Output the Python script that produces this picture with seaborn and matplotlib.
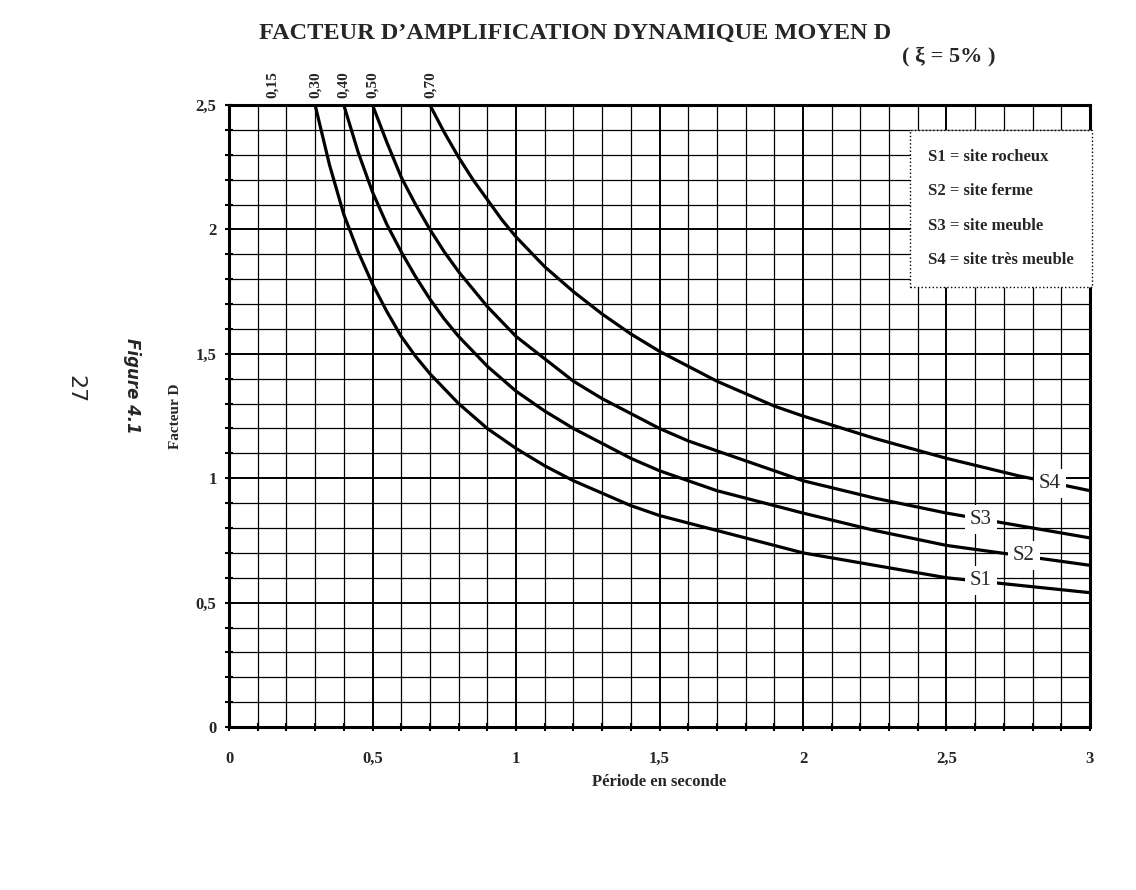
import numpy as np
import pandas as pd
import matplotlib
matplotlib.use("Agg")
import matplotlib.pyplot as plt
import seaborn as sns

# values (periode T en s, facteur D)
t_s1 = [0.30, 0.35, 0.40, 0.45, 0.50, 0.55, 0.60, 0.65, 0.70, 0.75, 0.80, 0.85, 0.90, 0.95, 1.00,
        1.10, 1.20, 1.30, 1.40, 1.50, 1.60, 1.70, 1.80, 1.90, 2.00, 2.25, 2.50, 2.75, 3.00]
d_s1 = [2.50, 2.26, 2.06, 1.91, 1.78, 1.67, 1.57, 1.49, 1.42, 1.36, 1.30, 1.25, 1.20, 1.16, 1.12,
        1.05, 0.99, 0.94, 0.89, 0.85, 0.82, 0.79, 0.76, 0.73, 0.70, 0.65, 0.60, 0.57, 0.54]

t_s2 = [0.40, 0.45, 0.50, 0.55, 0.60, 0.65, 0.70, 0.75, 0.80, 0.85, 0.90, 0.95, 1.00,
        1.10, 1.20, 1.30, 1.40, 1.50, 1.60, 1.70, 1.80, 1.90, 2.00, 2.25, 2.50, 2.75, 3.00]
d_s2 = [2.50, 2.31, 2.15, 2.02, 1.91, 1.81, 1.72, 1.64, 1.57, 1.51, 1.45, 1.40, 1.35,
        1.27, 1.20, 1.14, 1.08, 1.03, 0.99, 0.95, 0.92, 0.89, 0.86, 0.79, 0.73, 0.69, 0.65]

t_s3 = [0.50, 0.55, 0.60, 0.65, 0.70, 0.75, 0.80, 0.85, 0.90, 0.95, 1.00,
        1.10, 1.20, 1.30, 1.40, 1.50, 1.60, 1.70, 1.80, 1.90, 2.00, 2.25, 2.50, 2.75, 3.00]
d_s3 = [2.50, 2.35, 2.21, 2.10, 2.00, 1.91, 1.83, 1.76, 1.69, 1.63, 1.57,
        1.48, 1.39, 1.32, 1.26, 1.20, 1.15, 1.11, 1.07, 1.03, 0.99, 0.92, 0.86, 0.81, 0.76]

t_s4 = [0.70, 0.75, 0.80, 0.85, 0.90, 0.95, 1.00,
        1.10, 1.20, 1.30, 1.40, 1.50, 1.60, 1.70, 1.80, 1.90, 2.00, 2.25, 2.50, 2.75, 3.00]
d_s4 = [2.50, 2.39, 2.29, 2.20, 2.12, 2.04, 1.97,
        1.85, 1.75, 1.66, 1.58, 1.51, 1.45, 1.39, 1.34, 1.29, 1.25, 1.16, 1.08, 1.01, 0.95]

sites = ["S1", "S2", "S3", "S4"]
legend_lines = ["S1 = site rocheux", "S2 = site ferme", "S3 = site meuble", "S4 = site très meuble"]
t2_marks = [0.15, 0.30, 0.40, 0.50, 0.70]
t2_labels = ["0,15", "0,30", "0,40", "0,50", "0,70"]
x_ticks = [0, 0.5, 1, 1.5, 2, 2.5, 3]
x_labels = ["0", "0,5", "1", "1,5", "2", "2,5", "3"]
y_ticks = [0, 0.5, 1, 1.5, 2, 2.5]
y_labels = ["0", "0,5", "1", "1,5", "2", "2,5"]
# where the curve labels sit on the curves
lab_t = [2.62, 2.77, 2.62, 2.86]
lab_d = [0.59, 0.69, 0.835, 0.98]

frames = []
for s, t, d in zip(sites, [t_s1, t_s2, t_s3, t_s4], [d_s1, d_s2, d_s3, d_s4]):
    frames.append(pd.DataFrame({"T": t, "D": d, "site": s}))
df = pd.concat(frames, ignore_index=True)

sns.set_theme(style="white")
plt.rcParams["font.family"] = ["Liberation Serif", "DejaVu Serif"]

fig = plt.figure(figsize=(11.36, 8.9), dpi=100)
ax = fig.add_axes([0.2016, 0.1831, 0.7579, 0.6989])

sns.lineplot(data=df, x="T", y="D", units="site", estimator=None,
             color="black", lw=2.3, ax=ax, zorder=3)

ax.set_xlim(0, 3)
ax.set_ylim(0, 2.5)
ax.set_xticks(x_ticks)
ax.set_xticklabels(x_labels, fontsize=12, fontweight="bold")
ax.set_yticks(y_ticks)
ax.set_yticklabels(y_labels, fontsize=12, fontweight="bold")
ax.set_xticks(np.arange(0, 3.001, 0.1), minor=True)
ax.set_yticks(np.arange(0, 2.501, 0.1), minor=True)
ax.grid(which="minor", color="black", lw=0.9)
ax.grid(which="major", color="black", lw=1.4)
ax.tick_params(which="both", direction="inout", length=6, width=1.5, color="black",
               bottom=True, left=True)
ax.tick_params(axis="x", which="major", pad=14)
ax.tick_params(axis="y", which="major", pad=6)
for sp in ax.spines.values():
    sp.set_color("black")
    sp.set_linewidth(2.2)

ax.set_xlabel("Période en seconde", fontsize=12, fontweight="bold", labelpad=5)
ax.set_ylabel("Facteur D", fontsize=11, fontweight="bold", labelpad=10)

# curve labels with a white gap in the line
for s, tx, dy in zip(sites, lab_t, lab_d):
    ax.text(tx, dy, s, fontsize=15, ha="center", va="center", zorder=5,
            bbox=dict(boxstyle="square,pad=0.25", fc="white", ec="none"))

# legend box
ax.text(0.812, 0.93, "\n".join(legend_lines), transform=ax.transAxes, fontsize=12,
        fontweight="bold", ha="left", va="top", linespacing=2.55, zorder=6,
        bbox=dict(boxstyle="square,pad=1.1", fc="white", ec="black", lw=1.0, ls=":"))

# T2 marks above the top axis
for t, lab in zip(t2_marks, t2_labels):
    ax.text(t, 2.53, lab, rotation=90, fontsize=11, fontweight="bold",
            ha="center", va="bottom", clip_on=False)

fig.text(0.506, 0.962, "FACTEUR D\u2019AMPLIFICATION DYNAMIQUE MOYEN D", fontsize=17.5,
         fontweight="bold", ha="center", va="center")
fig.text(0.835, 0.937, "( \u03be = 5% )", fontsize=16, fontweight="bold", ha="center", va="center")
fig.text(0.116, 0.566, "Figure 4.1", rotation=-90, fontsize=12, fontstyle="italic",
         fontweight="bold", family="DejaVu Sans", ha="center", va="center")
fig.text(0.066, 0.563, "27", rotation=-90, fontsize=16, family="DejaVu Sans",
         ha="center", va="center")

fig.savefig("out.png", dpi=100, facecolor="white")
